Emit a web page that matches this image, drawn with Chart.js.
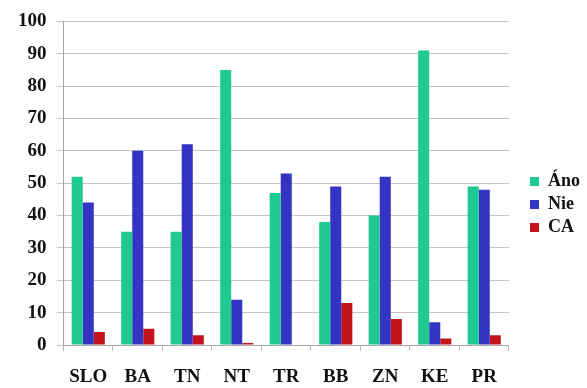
<!DOCTYPE html>
<html>
<head>
<meta charset="utf-8">
<script src="https://cdn.jsdelivr.net/npm/chart.js@4"></script>
<style>
  html, body { margin: 0; padding: 0; background: #ffffff; }
  #wrap { width: 587px; height: 388px; position: relative; }
</style>
</head>
<body>
<div id="wrap"><canvas id="c"></canvas></div>
<script>
// Regions and answer shares (%)
const regions = ['SLO', 'BA', 'TN', 'NT', 'TR', 'BB', 'ZN', 'KE', 'PR'];
const ano = [52, 35, 35, 85, 47, 38, 40, 91, 49];
const nie = [44, 60, 62, 14, 53, 49, 52, 7, 48];
const ca  = [4, 5, 3, 0.6, 0, 13, 8, 2, 3];
const yTicks = [0, 10, 20, 30, 40, 50, 60, 70, 80, 90, 100];

Chart.defaults.font.family = '"Liberation Serif", serif';
Chart.defaults.font.weight = 'bold';
Chart.defaults.font.size = 19;
Chart.defaults.color = '#111';

new Chart(document.getElementById('c'), {
  type: 'bar',
  data: {
    labels: regions,
    datasets: [
      { label: 'Áno', data: ano, backgroundColor: '#1fc98f' },
      { label: 'Nie', data: nie, backgroundColor: '#3333c4' },
      { label: 'CA',  data: ca,  backgroundColor: '#c3141c' }
    ]
  },
  options: {
    responsive: true,
    maintainAspectRatio: false,
    animation: false,
    datasets: { bar: { categoryPercentage: 0.67, barPercentage: 1.0 } },
    layout: { padding: { top: 21, left: 8, right: -3, bottom: 0 } },
    plugins: {
      tooltip: { enabled: false },
      legend: {
        position: 'right',
        labels: {
          boxWidth: 9, boxHeight: 9, padding: 5,
          font: { size: 18 }
        }
      }
    },
    scales: {
      x: {
        offset: true,
        grid: {
          offset: true, drawOnChartArea: false, drawTicks: true,
          tickLength: 6, color: '#b8b8b8'
        },
        border: { color: '#a8a8a8' },
        ticks: { padding: 15 },
        afterFit: (scale) => { scale.height = 43; }
      },
      y: {
        min: 0, max: 100,
        afterBuildTicks: (axis) => { axis.ticks = yTicks.map(v => ({ value: v })); },
        grid: { color: '#c4c4c4', tickLength: 7 },
        border: { color: '#a8a8a8' },
        ticks: { padding: 10 }
      },
      // empty spacer between the plot and the legend
      gap: {
        type: 'linear',
        position: 'right',
        display: true,
        grid: { display: false, drawTicks: false },
        border: { display: false },
        ticks: { display: false },
        afterFit: (scale) => { scale.width = 16; }
      }
    }
  }
});
</script>
</body>
</html>
